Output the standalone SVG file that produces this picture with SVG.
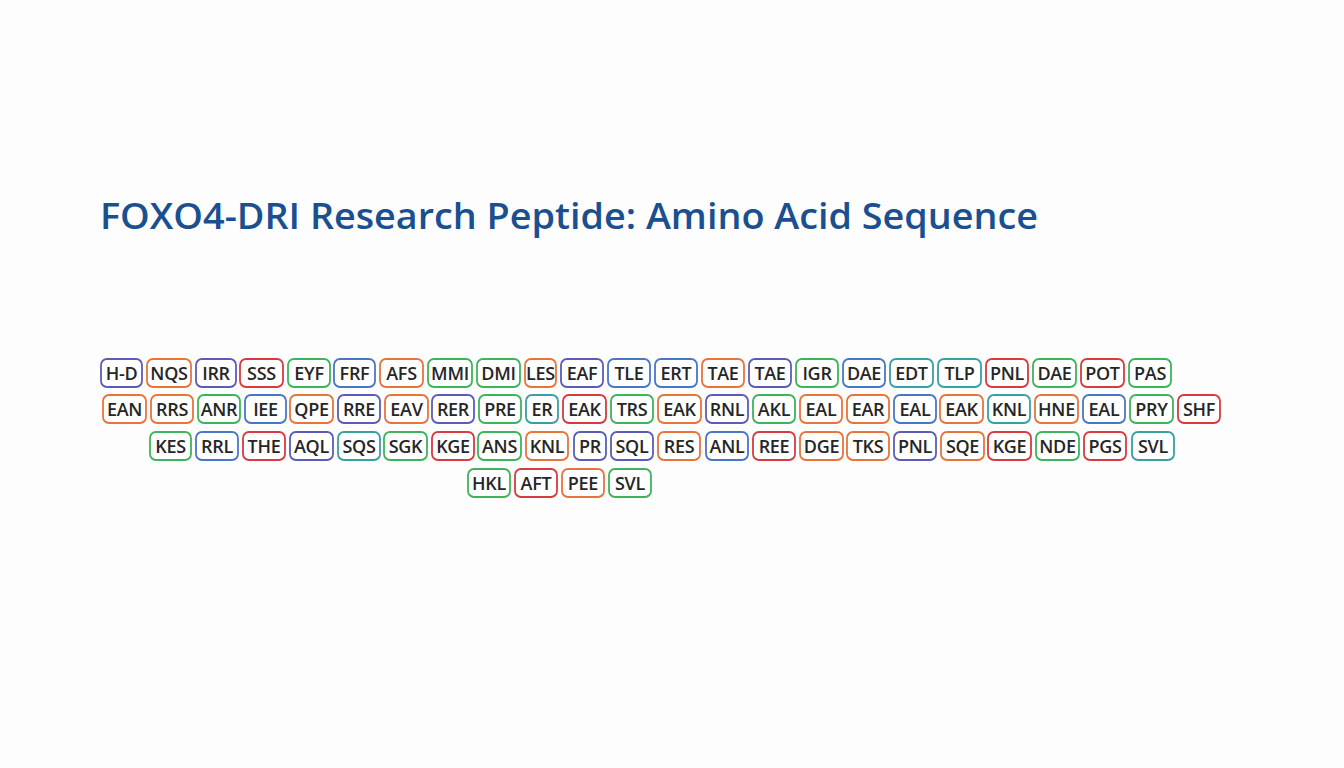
<svg xmlns="http://www.w3.org/2000/svg" width="1344" height="768" viewBox="0 0 1344 768">
<style>
.b{fill:#fff;stroke-width:1.8}
.t{font-family:"Open Sans","Noto Sans",sans-serif;font-size:18px;font-weight:600;fill:#262626;text-anchor:middle;dominant-baseline:central;letter-spacing:-0.3px}
.P .b{stroke:#5a5cb8}.O .b{stroke:#e8743b}.R .b{stroke:#d83a3f}.G .b{stroke:#3db45b}.B .b{stroke:#4a76c6}.T .b{stroke:#36a0a2}
</style>
<rect width="1344" height="768" fill="#fdfdfd"/>
<text x="100" y="229" font-family="'Open Sans','Noto Sans',sans-serif" font-size="36" font-weight="600" fill="#1a4f90" textLength="938" lengthAdjust="spacingAndGlyphs">FOXO4-DRI Research Peptide: Amino Acid Sequence</text>
<g id="row1">
<g id="r1n1" class="P"><rect class="b" x="101" y="359" width="41" height="28" rx="6"/><text class="t" x="121.5" y="373">H-D</text></g>
<g id="r1n2" class="O"><rect class="b" x="147" y="359" width="44" height="28" rx="6"/><text class="t" x="169" y="373">NQS</text></g>
<g id="r1n3" class="P"><rect class="b" x="196" y="359" width="40" height="28" rx="6"/><text class="t" x="216" y="373">IRR</text></g>
<g id="r1n4" class="R"><rect class="b" x="240" y="359" width="43" height="28" rx="6"/><text class="t" x="261.5" y="373">SSS</text></g>
<g id="r1n5" class="G"><rect class="b" x="288" y="359" width="42" height="28" rx="6"/><text class="t" x="309" y="373">EYF</text></g>
<g id="r1n6" class="B"><rect class="b" x="334" y="359" width="41" height="28" rx="6"/><text class="t" x="354.5" y="373">FRF</text></g>
<g id="r1n7" class="O"><rect class="b" x="380" y="359" width="43" height="28" rx="6"/><text class="t" x="401.5" y="373">AFS</text></g>
<g id="r1n8" class="G"><rect class="b" x="428" y="359" width="44" height="28" rx="6"/><text class="t" x="450" y="373">MMI</text></g>
<g id="r1n9" class="G"><rect class="b" x="477" y="359" width="43" height="28" rx="6"/><text class="t" x="498.5" y="373">DMI</text></g>
<g id="r1n10" class="O"><rect class="b" x="525" y="359" width="31" height="28" rx="6"/><text class="t" x="540.5" y="373">LES</text></g>
<g id="r1n11" class="P"><rect class="b" x="561" y="359" width="42" height="28" rx="6"/><text class="t" x="582" y="373">EAF</text></g>
<g id="r1n12" class="B"><rect class="b" x="608" y="359" width="42" height="28" rx="6"/><text class="t" x="629" y="373">TLE</text></g>
<g id="r1n13" class="B"><rect class="b" x="655" y="359" width="42" height="28" rx="6"/><text class="t" x="676" y="373">ERT</text></g>
<g id="r1n14" class="O"><rect class="b" x="702" y="359" width="42" height="28" rx="6"/><text class="t" x="723" y="373">TAE</text></g>
<g id="r1n15" class="P"><rect class="b" x="749" y="359" width="42" height="28" rx="6"/><text class="t" x="770" y="373">TAE</text></g>
<g id="r1n16" class="G"><rect class="b" x="796" y="359" width="42" height="28" rx="6"/><text class="t" x="817" y="373">IGR</text></g>
<g id="r1n17" class="B"><rect class="b" x="843" y="359" width="42" height="28" rx="6"/><text class="t" x="864" y="373">DAE</text></g>
<g id="r1n18" class="T"><rect class="b" x="890" y="359" width="43" height="28" rx="6"/><text class="t" x="911.5" y="373">EDT</text></g>
<g id="r1n19" class="T"><rect class="b" x="938" y="359" width="43" height="28" rx="6"/><text class="t" x="959.5" y="373">TLP</text></g>
<g id="r1n20" class="R"><rect class="b" x="986" y="359" width="42" height="28" rx="6"/><text class="t" x="1007" y="373">PNL</text></g>
<g id="r1n21" class="G"><rect class="b" x="1033" y="359" width="43" height="28" rx="6"/><text class="t" x="1054.5" y="373">DAE</text></g>
<g id="r1n22" class="R"><rect class="b" x="1081" y="359" width="43" height="28" rx="6"/><text class="t" x="1102.5" y="373">POT</text></g>
<g id="r1n23" class="G"><rect class="b" x="1129" y="359" width="42" height="28" rx="6"/><text class="t" x="1150" y="373">PAS</text></g>
</g>
<g id="row2">
<g id="r2n1" class="O"><rect class="b" x="103" y="395" width="43" height="28" rx="6"/><text class="t" x="124.5" y="409">EAN</text></g>
<g id="r2n2" class="O"><rect class="b" x="151" y="395" width="42" height="28" rx="6"/><text class="t" x="172" y="409">RRS</text></g>
<g id="r2n3" class="G"><rect class="b" x="198" y="395" width="42" height="28" rx="6"/><text class="t" x="219" y="409">ANR</text></g>
<g id="r2n4" class="B"><rect class="b" x="245" y="395" width="41" height="28" rx="6"/><text class="t" x="265.5" y="409">IEE</text></g>
<g id="r2n5" class="O"><rect class="b" x="290" y="395" width="43" height="28" rx="6"/><text class="t" x="311.5" y="409">QPE</text></g>
<g id="r2n6" class="P"><rect class="b" x="338" y="395" width="42" height="28" rx="6"/><text class="t" x="359" y="409">RRE</text></g>
<g id="r2n7" class="O"><rect class="b" x="385" y="395" width="43" height="28" rx="6"/><text class="t" x="406.5" y="409">EAV</text></g>
<g id="r2n8" class="P"><rect class="b" x="432" y="395" width="42" height="28" rx="6"/><text class="t" x="453" y="409">RER</text></g>
<g id="r2n9" class="G"><rect class="b" x="479" y="395" width="42" height="28" rx="6"/><text class="t" x="500" y="409">PRE</text></g>
<g id="r2n10" class="T"><rect class="b" x="526" y="395" width="32" height="28" rx="6"/><text class="t" x="542" y="409">ER</text></g>
<g id="r2n11" class="R"><rect class="b" x="563" y="395" width="43" height="28" rx="6"/><text class="t" x="584.5" y="409">EAK</text></g>
<g id="r2n12" class="G"><rect class="b" x="611" y="395" width="42" height="28" rx="6"/><text class="t" x="632" y="409">TRS</text></g>
<g id="r2n13" class="O"><rect class="b" x="658" y="395" width="43" height="28" rx="6"/><text class="t" x="679.5" y="409">EAK</text></g>
<g id="r2n14" class="P"><rect class="b" x="706" y="395" width="42" height="28" rx="6"/><text class="t" x="727" y="409">RNL</text></g>
<g id="r2n15" class="G"><rect class="b" x="753" y="395" width="42" height="28" rx="6"/><text class="t" x="774" y="409">AKL</text></g>
<g id="r2n16" class="O"><rect class="b" x="800" y="395" width="42" height="28" rx="6"/><text class="t" x="821" y="409">EAL</text></g>
<g id="r2n17" class="O"><rect class="b" x="847" y="395" width="42" height="28" rx="6"/><text class="t" x="868" y="409">EAR</text></g>
<g id="r2n18" class="B"><rect class="b" x="894" y="395" width="42" height="28" rx="6"/><text class="t" x="915" y="409">EAL</text></g>
<g id="r2n19" class="O"><rect class="b" x="940" y="395" width="43" height="28" rx="6"/><text class="t" x="961.5" y="409">EAK</text></g>
<g id="r2n20" class="T"><rect class="b" x="988" y="395" width="42" height="28" rx="6"/><text class="t" x="1009" y="409">KNL</text></g>
<g id="r2n21" class="O"><rect class="b" x="1035" y="395" width="43" height="28" rx="6"/><text class="t" x="1056.5" y="409">HNE</text></g>
<g id="r2n22" class="B"><rect class="b" x="1083" y="395" width="42" height="28" rx="6"/><text class="t" x="1104" y="409">EAL</text></g>
<g id="r2n23" class="G"><rect class="b" x="1130" y="395" width="43" height="28" rx="6"/><text class="t" x="1151.5" y="409">PRY</text></g>
<g id="r2n24" class="R"><rect class="b" x="1178" y="395" width="42" height="28" rx="6"/><text class="t" x="1199" y="409">SHF</text></g>
</g>
<g id="row3">
<g id="r3n1" class="G"><rect class="b" x="150" y="432" width="41" height="28" rx="6"/><text class="t" x="170.5" y="446">KES</text></g>
<g id="r3n2" class="B"><rect class="b" x="196" y="432" width="42" height="28" rx="6"/><text class="t" x="217" y="446">RRL</text></g>
<g id="r3n3" class="R"><rect class="b" x="243" y="432" width="42" height="28" rx="6"/><text class="t" x="264" y="446">THE</text></g>
<g id="r3n4" class="P"><rect class="b" x="290" y="432" width="43" height="28" rx="6"/><text class="t" x="311.5" y="446">AQL</text></g>
<g id="r3n5" class="T"><rect class="b" x="338" y="432" width="42" height="28" rx="6"/><text class="t" x="359" y="446">SQS</text></g>
<g id="r3n6" class="G"><rect class="b" x="384" y="432" width="43" height="28" rx="6"/><text class="t" x="405.5" y="446">SGK</text></g>
<g id="r3n7" class="R"><rect class="b" x="432" y="432" width="42" height="28" rx="6"/><text class="t" x="453" y="446">KGE</text></g>
<g id="r3n8" class="G"><rect class="b" x="478" y="432" width="43" height="28" rx="6"/><text class="t" x="499.5" y="446">ANS</text></g>
<g id="r3n9" class="O"><rect class="b" x="526" y="432" width="42" height="28" rx="6"/><text class="t" x="547" y="446">KNL</text></g>
<g id="r3n10" class="P"><rect class="b" x="574" y="432" width="32" height="28" rx="6"/><text class="t" x="590" y="446">PR</text></g>
<g id="r3n11" class="P"><rect class="b" x="611" y="432" width="42" height="28" rx="6"/><text class="t" x="632" y="446">SQL</text></g>
<g id="r3n12" class="O"><rect class="b" x="658" y="432" width="42" height="28" rx="6"/><text class="t" x="679" y="446">RES</text></g>
<g id="r3n13" class="B"><rect class="b" x="706" y="432" width="42" height="28" rx="6"/><text class="t" x="727" y="446">ANL</text></g>
<g id="r3n14" class="R"><rect class="b" x="753" y="432" width="42" height="28" rx="6"/><text class="t" x="774" y="446">REE</text></g>
<g id="r3n15" class="O"><rect class="b" x="800" y="432" width="43" height="28" rx="6"/><text class="t" x="821.5" y="446">DGE</text></g>
<g id="r3n16" class="O"><rect class="b" x="847" y="432" width="42" height="28" rx="6"/><text class="t" x="868" y="446">TKS</text></g>
<g id="r3n17" class="P"><rect class="b" x="894" y="432" width="42" height="28" rx="6"/><text class="t" x="915" y="446">PNL</text></g>
<g id="r3n18" class="O"><rect class="b" x="941" y="432" width="43" height="28" rx="6"/><text class="t" x="962.5" y="446">SQE</text></g>
<g id="r3n19" class="R"><rect class="b" x="988" y="432" width="43" height="28" rx="6"/><text class="t" x="1009.5" y="446">KGE</text></g>
<g id="r3n20" class="G"><rect class="b" x="1036" y="432" width="43" height="28" rx="6"/><text class="t" x="1057.5" y="446">NDE</text></g>
<g id="r3n21" class="R"><rect class="b" x="1084" y="432" width="42" height="28" rx="6"/><text class="t" x="1105" y="446">PGS</text></g>
<g id="r3n22" class="T"><rect class="b" x="1132" y="432" width="42" height="28" rx="6"/><text class="t" x="1153" y="446">SVL</text></g>
</g>
<g id="row4">
<g id="r4n1" class="G"><rect class="b" x="468" y="469" width="42" height="28" rx="6"/><text class="t" x="489" y="483">HKL</text></g>
<g id="r4n2" class="R"><rect class="b" x="515" y="469" width="42" height="28" rx="6"/><text class="t" x="536" y="483">AFT</text></g>
<g id="r4n3" class="O"><rect class="b" x="562" y="469" width="42" height="28" rx="6"/><text class="t" x="583" y="483">PEE</text></g>
<g id="r4n4" class="G"><rect class="b" x="609" y="469" width="42" height="28" rx="6"/><text class="t" x="630" y="483">SVL</text></g>
</g>
<g id="connectors"/>
</svg>
